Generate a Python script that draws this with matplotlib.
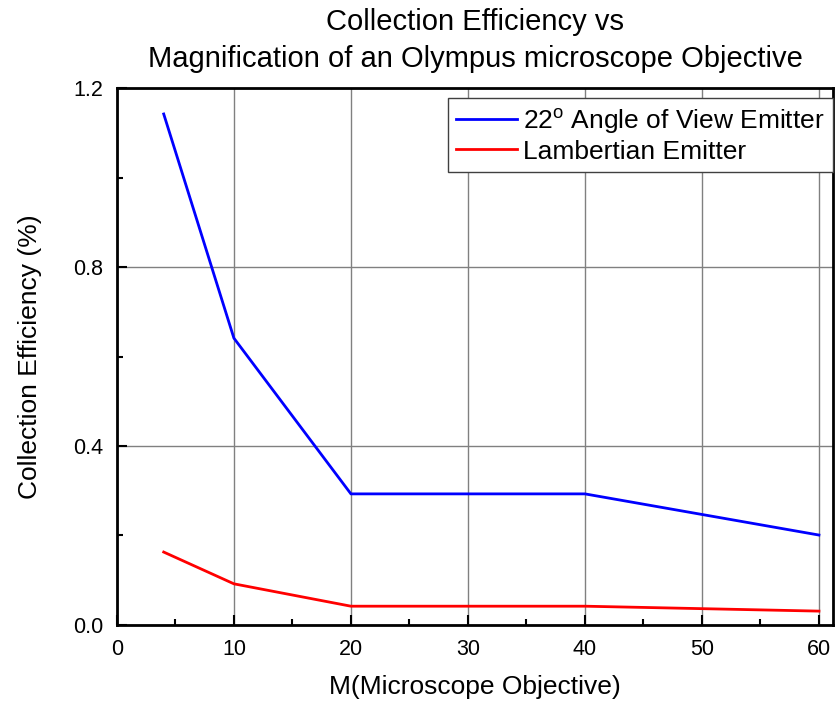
import matplotlib.pyplot as plt
from matplotlib.ticker import MultipleLocator

plt.rcParams['font.family'] = ['Liberation Sans', 'DejaVu Sans']

magnification = [4, 10, 20, 40, 60]
eff_22deg = [1.142, 0.641, 0.293, 0.293, 0.201]
eff_lambert = [0.163, 0.092, 0.042, 0.042, 0.031]

fig = plt.figure(figsize=(8.35, 7.02), dpi=100)
ax = fig.add_axes([0.140, 0.1097, 0.8576, 0.7649])

ax.plot(magnification, eff_22deg, color='#0000ff', lw=2, label='22$^\\mathregular{o}$ Angle of View Emitter')
ax.plot(magnification, eff_lambert, color='#ff0000', lw=2, label='Lambertian Emitter')

ax.set_xlim(0, 61.2)
ax.set_ylim(0, 1.2)
ax.xaxis.set_major_locator(MultipleLocator(10))
ax.xaxis.set_minor_locator(MultipleLocator(5))
ax.yaxis.set_major_locator(MultipleLocator(0.4))
ax.yaxis.set_minor_locator(MultipleLocator(0.2))
ax.yaxis.set_major_formatter(lambda v, p: '%.1f' % v)
ax.grid(True, which='major', color='#808080', lw=1)
ax.tick_params(which='both', direction='in', labelsize=15.5, width=1.5, pad=10)
ax.tick_params(which='major', length=7)
ax.tick_params(which='minor', length=4)
for s in ax.spines.values():
    s.set_linewidth(2)

ax.set_xlabel('M(Microscope Objective)', fontsize=19, labelpad=11)
ax.set_ylabel('Collection Efficiency (%)', fontsize=19, labelpad=22)
ax.set_title('Collection Efficiency vs\nMagnification of an Olympus microscope Objective',
             fontsize=21, pad=15, linespacing=1.4)

leg = ax.legend(loc='upper right', bbox_to_anchor=(1.0, 1 - 10 / 537), fontsize=19,
                fancybox=False, edgecolor='#404040', framealpha=1, borderaxespad=0,
                handlelength=2.3, handletextpad=0.25, borderpad=0.3, labelspacing=0.15)
leg.get_frame().set_linewidth(1)

fig.savefig('out.png', dpi=100)
